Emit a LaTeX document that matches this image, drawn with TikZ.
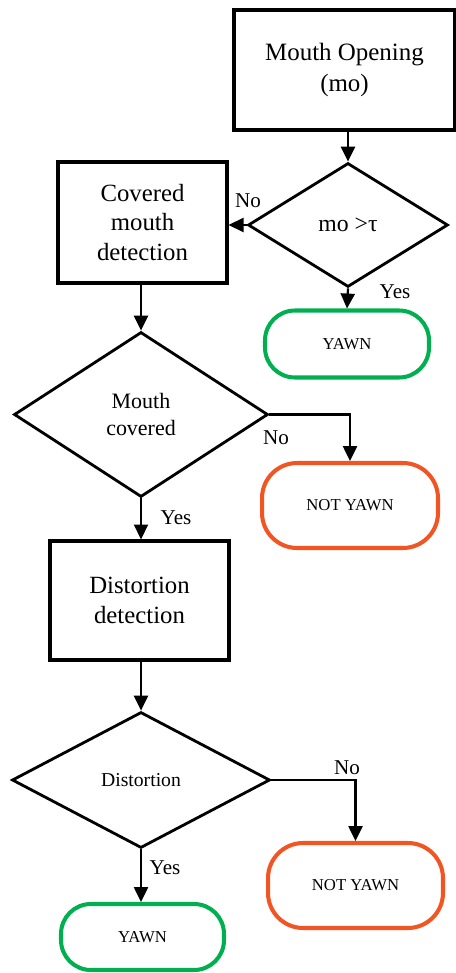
\documentclass[tikz,border=0pt]{standalone}
\usepackage{fontspec}
\setmainfont{Liberation Serif}
\usetikzlibrary{shapes.geometric, arrows.meta}
\definecolor{yawngreen}{RGB}{0,176,80}
\definecolor{notorange}{RGB}{240,85,35}

\begin{document}
\begin{tikzpicture}[x=0.02cm, y=-0.02cm,
    box/.style={draw, line width=1.8pt, align=center, inner sep=0pt, font=\fontsize{14.1}{17}\selectfont},
    dec/.style={draw, diamond, line width=1.6pt, align=center, inner sep=0pt},
    endbox/.style={draw, line width=2.3pt, rounded corners=17pt, align=center, font=\fontsize{9.5}{11}\selectfont},
    lbl/.style={inner sep=0pt, font=\fontsize{12}{14}\selectfont},
    arr/.style={-{Triangle[length=8.5pt, width=8pt]}, line width=1.25pt}]
                \useasboundingbox (0,0) rectangle (456,973);

                \node[box, minimum width=4.42cm, minimum height=2.4cm, font=\fontsize{14.2}{18.2}\selectfont] (open) at (344.5,70) {Mouth Opening\\(mo)};
                \node[dec, minimum width=4cm, minimum height=2.48cm, font=\fontsize{13.5}{16}\selectfont] (d1) at (348,225) {mo >τ};
                \node[box, minimum width=3.38cm, minimum height=2.42cm] (cover) at (142.5,222.5) {Covered\\mouth\\detection};
                \node[endbox, draw=yawngreen, minimum width=3.28cm, minimum height=1.34cm] (yawn1) at (347,344) {YAWN};

                \node[dec, minimum width=5.08cm, minimum height=3.3cm, font=\fontsize{12.5}{15.4}\selectfont] (d2) at (141,414.5) {Mouth\\covered};
                \node[endbox, draw=notorange, rounded corners=20pt, minimum width=3.52cm, minimum height=1.7cm] (nty1) at (350,505.5) {NOT YAWN};
                \node[box, minimum width=3.58cm, minimum height=2.38cm] (distort) at (139.5,600.5) {Distortion\\detection};

                \node[dec, minimum width=5.16cm, minimum height=2.72cm, font=\fontsize{11.2}{13}\selectfont] (d3) at (141,780) {Distortion};
                \node[endbox, draw=notorange, rounded corners=20pt, minimum width=3.5cm, minimum height=1.7cm] (nty2) at (355.5,885.5) {NOT YAWN};
                \node[endbox, draw=yawngreen, minimum width=3.26cm, minimum height=1.32cm] (yawn2) at (142.5,937) {YAWN};

                % branch labels
                \node[lbl] (no1) at (248,201) {No};
                \node[lbl] (yes1) at (395,292) {Yes};
                \node[lbl] (no2) at (276,438) {No};
                \node[lbl] (yes2) at (176,518) {Yes};
                \node[lbl] (no3) at (347,768) {No};
                \node[lbl] (yes3) at (165,868) {Yes};

                \draw[arr] (open.south -| d1.north) -- (d1.north);
                \draw[arr] (d1.west) -- (cover.east |- d1.west);
                \draw[arr] (d1.south) -- (yawn1.north);
                \draw[arr] (cover.south -| d2.north) -- (d2.north);
                \draw[arr] (d2.east) -| (nty1.north);
                \draw[arr] (d2.south) -- (d2.south |- distort.north);
                \draw[arr] (distort.south -| d3.north) -- (d3.north);
                \draw[arr] (d3.east) -| (nty2.north);
                \draw[arr] (d3.south) -- (d3.south |- yawn2.north);
            \end{tikzpicture}
\end{document}
